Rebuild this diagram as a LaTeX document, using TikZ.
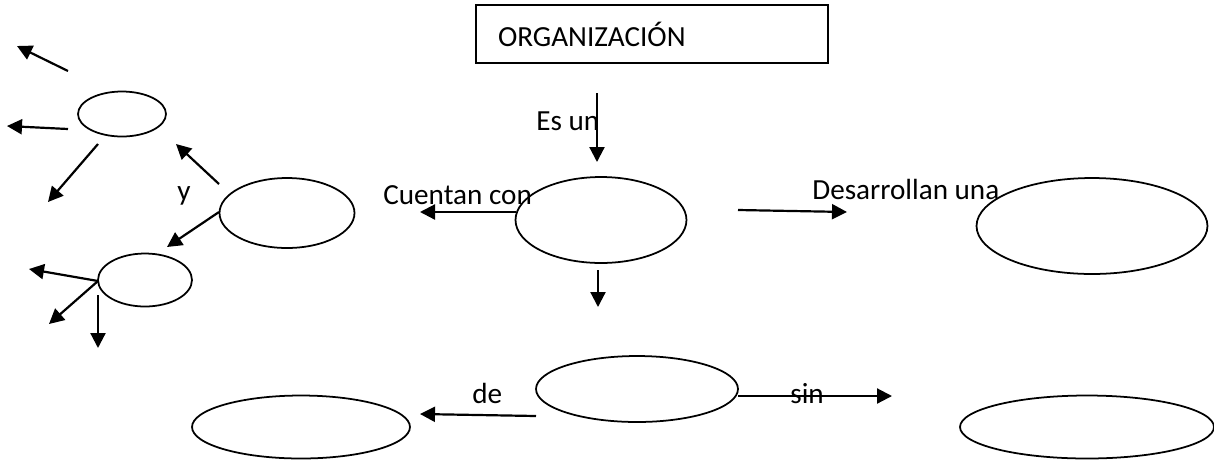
\documentclass[tikz,border=0pt]{standalone}
\usepackage{fontspec}
\setmainfont{Carlito}
\usetikzlibrary{shapes.geometric,arrows.meta}

\begin{document}
\begin{tikzpicture}[x=0.02cm,y=-0.02cm,
	elip/.style={draw,ellipse,line width=1pt,inner sep=0pt},
	flecha/.style={line width=1.25pt,-{Triangle[length=0.3cm,width=0.3cm]}},
	txt/.style={anchor=base west,inner sep=0pt,font=\fontsize{16.6}{19}\selectfont}]

\useasboundingbox (0,0) rectangle (1214,461);

\node[draw,line width=0.7pt,text width=6.16cm,inner xsep=0.44cm,minimum height=1.16cm,align=left,font=\fontsize{16.6}{19}\selectfont] at (652,34) (org) {ORGANIZACIÓN};

\node[elip,minimum width=3.42cm,minimum height=1.72cm] at (601,220) (centro) {};
\node[elip,minimum width=4.62cm,minimum height=1.92cm] at (1092,226) (derecha) {};
\node[elip,minimum width=2.7cm,minimum height=1.4cm] at (287,213) (izq) {};
\node[elip,minimum width=1.76cm,minimum height=0.9cm] at (122,114) (izqarr) {};
\node[elip,minimum width=1.88cm,minimum height=1.06cm] at (145,280) (izqaba) {};
\node[elip,minimum width=4.04cm,minimum height=1.32cm] at (637,389) (medio) {};
\node[elip,minimum width=4.36cm,minimum height=1.26cm] at (301,427) (abaizq) {};
\node[elip,minimum width=5.08cm,minimum height=1.26cm] at (1087,427) (abader) {};

\node[txt] at (536,130) (esun) {Es un};
\node[txt] at (383,204) (cuentan) {Cuentan con};
\node[txt] at (812,199) (desarrollan) {Desarrollan una};
\node[txt] at (177,200) (y) {y};
\node[txt] at (472,403) (de) {de};
\node[txt] at (790,403) (sin) {sin};

\coordinate (a1) at (597,93);
\coordinate (a2) at (597,162);
\coordinate (b1) at (516,212);
\coordinate (b2) at (420,212);
\coordinate (c1) at (738,210);
\coordinate (c2) at (847,212);
\coordinate (d1) at (598,270);
\coordinate (d2) at (598,307);
\coordinate (e1) at (536,416);
\coordinate (e2) at (420,414);
\coordinate (f1) at (738,396);
\coordinate (f2) at (892,396);
\coordinate (g1) at (219,184);
\coordinate (g2) at (176,144);
\coordinate (h1) at (219,212);
\coordinate (h2) at (167,247);
\coordinate (i1) at (68,71);
\coordinate (i2) at (17,46);
\coordinate (j1) at (68,129);
\coordinate (j2) at (7,126);
\coordinate (k1) at (98,144);
\coordinate (k2) at (48,202);
\coordinate (l1) at (98,281);
\coordinate (l2) at (29,269);
\coordinate (m2) at (49,324);
\coordinate (n1) at (98,295);
\coordinate (n2) at (98,348);

\path[flecha]
(a1) edge (a2)
(b1) edge (b2)
(c1) edge (c2)
(d1) edge (d2)
(e1) edge (e2)
(f1) edge (f2)
(g1) edge (g2)
(h1) edge (h2)
(i1) edge (i2)
(j1) edge (j2)
(k1) edge (k2)
(l1)
edge (l2)
edge (m2)
(n1) edge (n2);

\end{tikzpicture}
\end{document}
